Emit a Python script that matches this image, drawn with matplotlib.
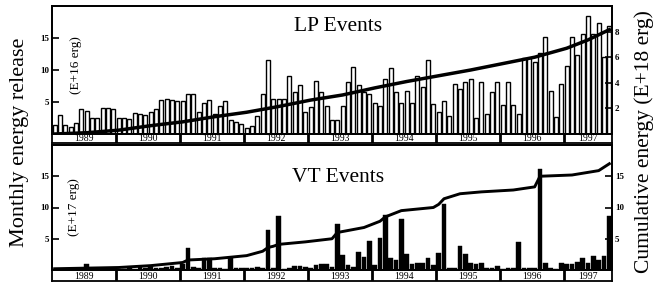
import numpy as np
import matplotlib
matplotlib.use("Agg")
import matplotlib.pyplot as plt

plt.rcParams['font.family'] = 'serif'
plt.rcParams['font.serif'] = ['Liberation Serif', 'DejaVu Serif']

# Monthly data, Jan 1989 .. Sep 1997
start_year = 1989
years = [1989, 1990, 1991, 1992, 1993, 1994, 1995, 1996, 1997]

# LP monthly energy release (E+16 erg)
lp_monthly = [
    1.4, 3.0, 1.4, 1.1, 1.7, 3.9, 3.6, 2.5, 2.5, 4.1, 4.0, 3.9,      # 1989
    2.5, 2.5, 2.4, 3.3, 3.1, 3.0, 3.5, 3.9, 5.3, 5.4, 5.3, 5.1,      # 1990
    5.2, 6.2, 6.2, 3.4, 4.9, 5.3, 3.2, 4.3, 5.2, 2.2, 1.8, 1.5,      # 1991
    1.0, 1.3, 2.8, 6.2, 11.5, 5.5, 5.4, 5.4, 9.0, 6.6, 7.7, 3.4,     # 1992
    4.2, 8.3, 6.6, 4.3, 2.2, 2.2, 4.4, 8.2, 10.4, 7.6, 6.6, 6.3,     # 1993
    4.8, 4.4, 8.6, 10.3, 6.5, 4.9, 6.7, 4.8, 9.1, 7.3, 11.6, 4.7,    # 1994
    3.4, 5.1, 2.8, 7.8, 7.0, 8.1, 8.6, 2.5, 8.1, 3.2, 6.5, 8.2,      # 1995
    4.5, 8.2, 4.5, 3.2, 11.8, 11.9, 11.3, 12.6, 15.1, 6.7, 2.7, 7.8, # 1996
    10.6, 15.1, 12.3, 15.6, 18.4, 15.7, 17.4, 12.1, 16.9,            # 1997
]

# VT monthly energy release (E+17 erg)
vt_monthly = [
    0.1, 0.2, 0.1, 0.3, 0.2, 0.1, 0.9, 0.2, 0.1, 0.1, 0.2, 0.1,
    0.2, 0.1, 0.3, 0.2, 0.6, 0.3, 0.7, 0.4, 0.3, 0.5, 0.6, 0.4,
    1.0, 3.5, 0.5, 0.3, 1.9, 1.9, 0.4, 0.3, 0.2, 1.9, 0.3, 0.3,
    0.4, 0.3, 0.5, 0.4, 6.4, 0.3, 8.7, 0.2, 0.3, 0.6, 0.6, 0.5,
    0.3, 0.8, 1.0, 0.9, 0.5, 7.3, 2.4, 0.8, 0.5, 2.9, 2.1, 4.6,
    0.8, 5.2, 8.8, 1.9, 1.6, 8.2, 2.6, 0.9, 1.1, 1.1, 2.0, 0.8,
    2.7, 10.5, 0.3, 0.4, 3.8, 2.5, 1.1, 1.0, 1.2, 0.4, 0.4, 0.6,
    0.2, 0.3, 0.3, 4.5, 0.4, 0.4, 0.4, 16.1, 1.1, 0.3, 0.2, 1.2,
    0.9, 1.0, 1.3, 1.9, 1.1, 2.2, 1.6, 2.2, 8.6,
]

# Cumulative curves (month index, value in E+18 erg)
lp_cum_month = [0, 6, 12, 18, 24, 30, 36, 42, 48, 54, 60, 66, 72, 78, 84, 90, 96, 100, 104]
lp_cum_value = [0.0, 0.1, 0.3, 0.65, 0.95, 1.35, 1.7, 2.15, 2.65, 3.05, 3.6, 4.1, 4.55, 5.0,
                5.5, 6.0, 6.7, 7.35, 8.15]

vt_cum_month = [0, 12, 18, 24, 25, 30, 36, 39, 40, 41, 42, 47, 52, 53, 58, 61, 62, 65, 71,
                72, 73, 76, 80, 86, 90, 91, 97, 102, 104]
vt_cum_value = [0.2, 0.4, 0.7, 1.2, 1.6, 1.8, 2.3, 3.0, 3.6, 3.8, 4.1, 4.5, 5.0, 6.0, 6.8,
                7.8, 8.5, 9.5, 10.0, 10.5, 11.4, 12.2, 12.5, 12.8, 13.3, 15.0, 15.2, 15.9, 17.0]

n_months = len(lp_monthly)
x_bar = start_year + (np.arange(n_months) + 0.5) / 12
x_end = start_year + n_months / 12


def month_x(m):
    return start_year + (np.asarray(m) + 0.5) / 12


fig = plt.figure(figsize=(6.61, 2.84), dpi=100)
L, W = 52 / 661, 560 / 661


def box(y0, y1):
    return [L, 1 - y1 / 284, W, (y1 - y0) / 284]


ax_lp = fig.add_axes(box(6, 134))
strip_lp = fig.add_axes(box(134, 143))
ax_vt = fig.add_axes(box(145, 270))
strip_vt = fig.add_axes(box(270, 281))

# LP panel
ax_lp.bar(x_bar, lp_monthly, width=0.72 / 12, color='white', edgecolor='black', linewidth=1.0)
ax_lp.set_xlim(start_year, x_end)
ax_lp.set_ylim(0, 20)
ax_lp.set_yticks([5, 10, 15])
ax_lp.set_xticks([])
ax_lp.text(0.51, 0.84, 'LP Events', transform=ax_lp.transAxes, ha='center', va='center', fontsize=15.5)
ax_lp.text(0.043, 0.54, '(E+16 erg)', transform=ax_lp.transAxes, rotation=90,
           ha='center', va='center', fontsize=9.5)
lp_r = ax_lp.twinx()
lp_r.plot(month_x(lp_cum_month), lp_cum_value, color='black', lw=2.5)
lp_r.set_ylim(0, 10)
lp_r.set_yticks([2, 4, 6, 8])

# VT panel
ax_vt.bar(x_bar, vt_monthly, width=0.9 / 12, color='black', edgecolor='black', linewidth=0.3)
ax_vt.set_xlim(start_year, x_end)
ax_vt.set_ylim(0, 20)
ax_vt.set_yticks([5, 10, 15])
ax_vt.set_xticks([])
ax_vt.text(0.51, 0.74, 'VT Events', transform=ax_vt.transAxes, ha='center', va='center', fontsize=15.5)
ax_vt.text(0.04, 0.5, '(E+17 erg)', transform=ax_vt.transAxes, rotation=90,
           ha='center', va='center', fontsize=9.5)
vt_r = ax_vt.twinx()
vt_r.plot(month_x(vt_cum_month), vt_cum_value, color='black', lw=2.1)
vt_r.set_ylim(0, 20)
vt_r.set_yticks([5, 10, 15])

for a in [ax_lp, ax_vt, lp_r, vt_r]:
    for s in a.spines.values():
        s.set_linewidth(1.3)
    a.tick_params(axis='y', direction='in', length=5, width=1.2, labelsize=6.5, pad=2)
    for lab in a.get_yticklabels():
        lab.set_fontweight('bold')

# year strips
for strip in [strip_lp, strip_vt]:
    strip.set_xlim(start_year, x_end)
    strip.set_ylim(0, 1)
    strip.set_xticks([])
    strip.set_yticks([])
    for s in strip.spines.values():
        s.set_linewidth(1.3)
    for yr in years[1:]:
        strip.axvline(yr, color='black', lw=2.0)
    for yr in years:
        xc = (yr + min(yr + 1, x_end)) / 2
        strip.text(xc, 0.45, str(yr), ha='center', va='center', fontsize=7)

fig.text(0.03, 0.5, 'Monthly energy release', rotation=90, ha='center', va='center', fontsize=16)
fig.text(0.975, 0.5, 'Cumulative energy (E+18 erg)', rotation=90, ha='center', va='center', fontsize=15.5)

fig.savefig('out.png', dpi=100)
